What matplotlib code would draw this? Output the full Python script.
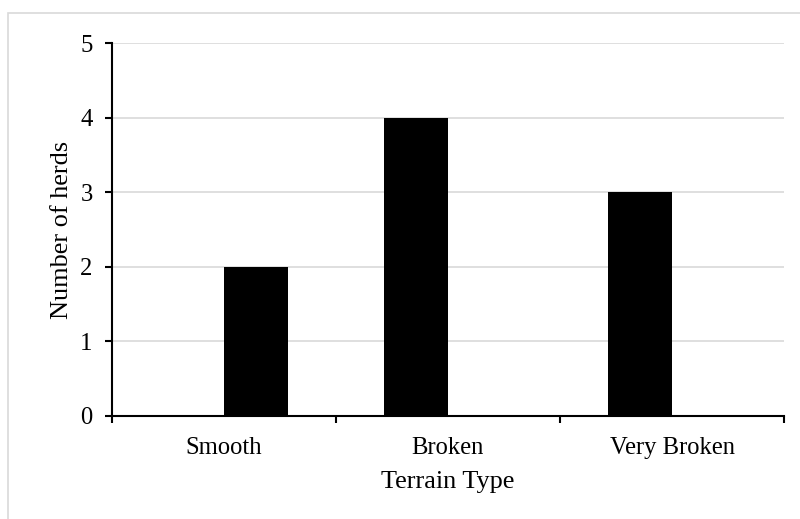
import matplotlib.pyplot as plt
import numpy as np
from matplotlib.patches import Rectangle

# данные
terrain = ['Smooth', 'Broken', 'Very Broken']
herds_a = [0, 4, 3]
herds_b = [2, 0, 0]

plt.rcParams['font.family'] = ['Liberation Serif', 'DejaVu Serif']

fig = plt.figure(figsize=(8, 5.19), dpi=100)
ax = fig.add_axes([0.14, 0.1985, 0.84, 0.7185])

x = np.arange(len(terrain))
w = 64 / 224

ax.bar(x - w / 2, herds_a, width=w, color='black', zorder=3)
ax.bar(x + w / 2, herds_b, width=w, color='black', zorder=3)

ax.set_xlim(-0.5, len(terrain) - 0.5)
ax.set_ylim(0, 5)
ax.set_yticks(range(6))
ax.yaxis.grid(True, color='#d9d9d9', linewidth=1.2, zorder=0)

ax.set_xticks(np.arange(len(terrain) + 1) - 0.5)
ax.set_xticklabels([])
ax.set_xticks(x, minor=True)
ax.set_xticklabels(terrain, minor=True, fontsize=17.7)
ax.tick_params(axis='x', which='minor', length=0, pad=15)
ax.tick_params(axis='x', which='major', length=5, width=1.5, direction='out')
ax.tick_params(axis='y', length=5, width=1.5, labelsize=17.7, pad=9)

for s in ['top', 'right']:
    ax.spines[s].set_visible(False)
for s in ['left', 'bottom']:
    ax.spines[s].set_linewidth(1.5)

ax.set_xlabel('Terrain Type', fontsize=18.9, labelpad=9)
ax.set_ylabel('Number of herds', fontsize=18.9, labelpad=5)

# рамка вокруг области диаграммы
fig.patches.append(Rectangle((8 / 800, -0.2), 1.2, 1.2 - 13 / 519,
                             transform=fig.transFigure, fill=False,
                             edgecolor='#d9d9d9', linewidth=1.2))

plt.savefig('out.png', dpi=100)
